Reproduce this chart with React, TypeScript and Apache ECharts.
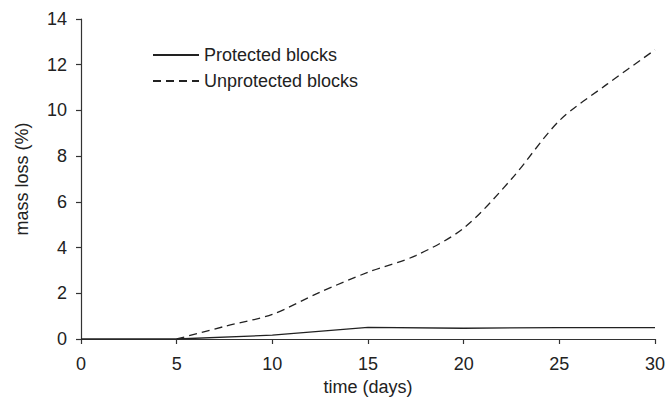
import React, { useEffect, useRef } from "react";
import * as echarts from "echarts";

const protectedDays = [0, 5, 10, 15, 20, 25, 30];
const protectedBlocks = [0, 0, 0.17, 0.51, 0.47, 0.5, 0.5];
const unprotectedDays = [5, 7.5, 10, 12.5, 15, 17.5, 20, 22.5, 25, 27.5, 30];
const unprotectedBlocks = [0, 0.55, 1.08, 2.05, 2.92, 3.65, 4.85, 7.0, 9.55, 11.15, 12.65];
const seriesNames = ["Protected blocks", "Unprotected blocks"];

const FONT = "Liberation Sans, Arial, sans-serif";
const INK = "#222";

export default function App() {
  const ref = useRef<HTMLDivElement>(null);
  useEffect(() => {
    if (!ref.current) return;
    const chart = echarts.init(ref.current, undefined, { renderer: "svg" });
    const axisCommon = {
      axisLine: { show: true, lineStyle: { color: "#333", width: 1.2 } },
      axisTick: { show: true, length: 5, inside: false, lineStyle: { color: "#333", width: 1.2 } },
      splitLine: { show: false },
      axisLabel: { color: INK, fontSize: 18, fontFamily: FONT },
      nameTextStyle: { color: INK, fontSize: 18, fontFamily: FONT },
    };
    chart.setOption({
      animation: false,
      backgroundColor: "#fff",
      textStyle: { fontFamily: FONT },
      grid: { left: 81, right: 13, top: 19, bottom: 65, containLabel: false },
      legend: {
        orient: "vertical",
        left: 147,
        top: 41,
        itemWidth: 46,
        itemHeight: 14,
        itemGap: 8,
        itemStyle: { opacity: 0 },
        textStyle: { color: INK, fontSize: 18, fontFamily: FONT },
        data: seriesNames,
      },
      xAxis: {
        type: "value",
        min: 0,
        max: 30,
        interval: 5,
        name: "time (days)",
        nameLocation: "middle",
        nameGap: 36,
        ...axisCommon,
        axisLabel: { ...axisCommon.axisLabel, margin: 16 },
      },
      yAxis: {
        type: "value",
        min: 0,
        max: 14,
        interval: 2,
        name: "mass loss (%)",
        nameLocation: "middle",
        nameGap: 50,
        nameRotate: 90,
        ...axisCommon,
        axisLabel: { ...axisCommon.axisLabel, margin: 14 },
      },
      series: [
        {
          name: seriesNames[0],
          type: "line",
          data: protectedDays.map((d, i) => [d, protectedBlocks[i]]),
          showSymbol: false,
          symbol: "none",
          lineStyle: { color: INK, width: 1.3, type: "solid" },
          itemStyle: { color: INK },
        },
        {
          name: seriesNames[1],
          type: "line",
          data: unprotectedDays.map((d, i) => [d, unprotectedBlocks[i]]),
          showSymbol: false,
          symbol: "none",
          smooth: 0.3,
          lineStyle: { color: INK, width: 1.3, type: [8, 5] },
          itemStyle: { color: INK },
        },
      ],
    });
    return () => chart.dispose();
  }, []);
  return <div ref={ref} style={{ width: 668, height: 404, position: "absolute", left: 0, top: 0 }} />;
}
